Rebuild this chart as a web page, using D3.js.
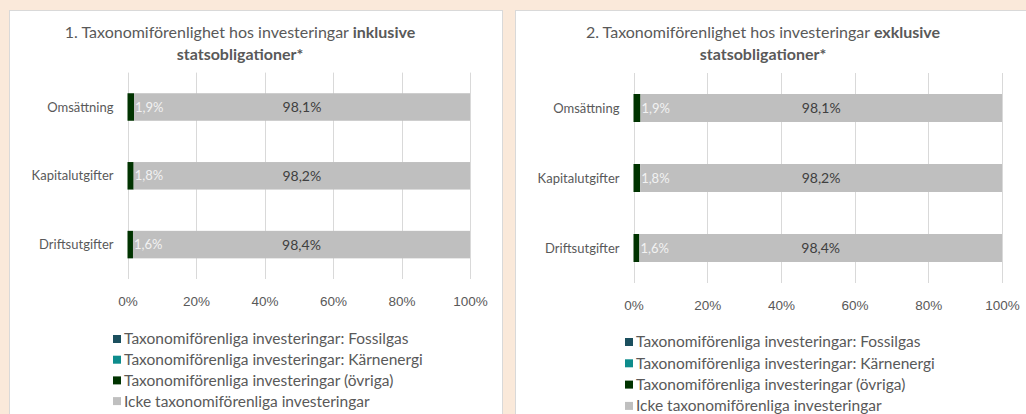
<!DOCTYPE html>
<html>
<head>
<meta charset="utf-8">
<script src="https://cdn.jsdelivr.net/npm/d3@7"></script>
<style>
  body { margin: 0; background: #fae9da; }
  svg { display: block; font-family: Lato, "Open Sans", sans-serif; }
</style>
</head>
<body>
<svg id="chart" width="1026" height="414"></svg>
<script>
// categories and values
const categories = ['Omsättning', 'Kapitalutgifter', 'Driftsutgifter'];
const seriesNames = [
    'Taxonomiförenliga investeringar: Fossilgas',
    'Taxonomiförenliga investeringar: Kärnenergi',
    'Taxonomiförenliga investeringar (övriga)',
    'Icke taxonomiförenliga investeringar'
];
const seriesColors = ['#1b4f5e', '#0e8c8c', '#003300', '#bfbfbf'];

const fossilInkl = [0, 0, 0];
const nuclearInkl = [0, 0, 0];
const otherInkl = [1.9, 1.8, 1.6];
const nonAlignedInkl = [98.1, 98.2, 98.4];

const fossilExkl = [0, 0, 0];
const nuclearExkl = [0, 0, 0];
const otherExkl = [1.9, 1.8, 1.6];
const nonAlignedExkl = [98.1, 98.2, 98.4];

const xTicks = [0, 20, 40, 60, 80, 100];

const svg = d3.select('#chart');

function fmt(v) {
    return d3.format('.1f')(v).replace('.', ',') + '%';
}

function drawPanel(cfg, values) {
    // white panel
    svg.append('rect')
        .attr('x', cfg.panel[0] + 0.5)
        .attr('y', cfg.panel[1] + 0.5)
        .attr('width', cfg.panel[2])
        .attr('height', cfg.panel[3])
        .attr('fill', '#fff')
        .attr('stroke', '#d9d9d9');

    // title, two lines, second part bold
    const title = svg.append('text')
        .attr('text-anchor', 'middle')
        .attr('font-size', 16)
        .attr('fill', '#595959');
    const l1 = title.append('tspan')
        .attr('x', cfg.titleX)
        .attr('y', 38)
        .text(cfg.title[0] + ' ');
    l1.append('tspan').attr('font-weight', 'bold').text(cfg.title[1]);
    title.append('tspan')
        .attr('x', cfg.titleX)
        .attr('y', 60)
        .attr('font-weight', 'bold')
        .text(cfg.title[2]);

    const x = d3.scaleLinear().domain([0, 100]).range(cfg.xRange);
    const y = d3.scaleBand().domain(categories).range(cfg.yRange).paddingInner(0.6).paddingOuter(0.3);

    const g = svg.append('g');

    // gridlines
    g.selectAll('.grid')
        .data(xTicks)
        .join('line')
            .attr('class', 'grid')
            .attr('x1', d => Math.round(x(d)) + 0.5)
            .attr('x2', d => Math.round(x(d)) + 0.5)
            .attr('y1', cfg.yRange[0])
            .attr('y2', cfg.yRange[1])
            .attr('stroke', '#d9d9d9');

    // stack the four series
    const rows = categories.map((c, i) => {
        const r = { cat: c };
        values.forEach((s, k) => { r[k] = s[i]; });
        return r;
    });
    const stack = d3.stack().keys(d3.range(values.length))(rows);

    g.selectAll('.series')
        .data(stack)
        .join('g')
            .attr('class', 'series')
            .attr('fill', (d, k) => seriesColors[k])
        .selectAll('rect')
        .data(d => d)
        .join('rect')
            .attr('x', d => x(d[0]))
            .attr('y', d => y(d.data.cat))
            .attr('width', d => x(d[1]) - x(d[0]))
            .attr('height', y.bandwidth());

    // labels: green segment (white, after the bar), grey segment (centred)
    const other = stack[2], rest = stack[3];
    g.selectAll('.lab-green')
        .data(other)
        .join('text')
            .attr('class', 'lab-green')
            .attr('x', d => x(d[1]) + 1)
            .attr('y', d => y(d.data.cat) + y.bandwidth() / 2)
            .attr('dy', '0.35em')
            .attr('font-size', 13)
            .attr('fill', '#f2f2f2')
            .text(d => fmt(d[1] - d[0]));
    g.selectAll('.lab-grey')
        .data(rest)
        .join('text')
            .attr('class', 'lab-grey')
            .attr('x', d => (x(d[0]) + x(d[1])) / 2)
            .attr('y', d => y(d.data.cat) + y.bandwidth() / 2)
            .attr('dy', '0.35em')
            .attr('text-anchor', 'middle')
            .attr('font-size', 14)
            .attr('fill', '#404040')
            .text(d => fmt(d[1] - d[0]));

    // category axis
    g.selectAll('.cat')
        .data(categories)
        .join('text')
            .attr('class', 'cat')
            .attr('x', cfg.xRange[0] - 14)
            .attr('y', d => y(d) + y.bandwidth() / 2)
            .attr('dy', '0.35em')
            .attr('text-anchor', 'end')
            .attr('font-size', 13)
            .attr('fill', '#595959')
            .text(d => d);

    // value axis
    const xAxis = g.append('g')
        .attr('transform', `translate(0,${cfg.yRange[1] + 14})`)
        .call(d3.axisBottom(x).tickValues(xTicks).tickFormat(d => d + '%').tickSize(0));
    xAxis.select('.domain').remove();
    xAxis.selectAll('text')
        .attr('font-family', null)
        .attr('font-size', 13.5)
        .attr('fill', '#595959');

    // legend
    const leg = g.selectAll('.leg')
        .data(seriesNames)
        .join('g')
            .attr('class', 'leg')
            .attr('transform', (d, i) => `translate(${cfg.legend[0]},${cfg.legend[1] + i * cfg.legend[2]})`);
    leg.append('rect')
        .attr('x', 0).attr('y', -4)
        .attr('width', 8).attr('height', 8)
        .attr('fill', (d, i) => seriesColors[i]);
    leg.append('text')
        .attr('x', 11)
        .attr('dy', '0.35em')
        .attr('font-size', 15.5)
        .attr('fill', '#595959')
        .text(d => d);
}

drawPanel({
    panel: [9, 10, 493, 420],
    title: ['1. Taxonomiförenlighet hos investeringar', 'inklusive', 'statsobligationer*'],
    titleX: 240,
    xRange: [127.5, 470],
    yRange: [72.6, 279],
    legend: [113, 339, 20.7]
}, [fossilInkl, nuclearInkl, otherInkl, nonAlignedInkl]);

drawPanel({
    panel: [515, 10, 520, 420],
    title: ['2. Taxonomiförenlighet hos investeringar', 'exklusive', 'statsobligationer*'],
    titleX: 763,
    xRange: [633.5, 1002],
    yRange: [73, 283],
    legend: [625, 342, 21.3]
}, [fossilExkl, nuclearExkl, otherExkl, nonAlignedExkl]);
</script>
</body>
</html>
